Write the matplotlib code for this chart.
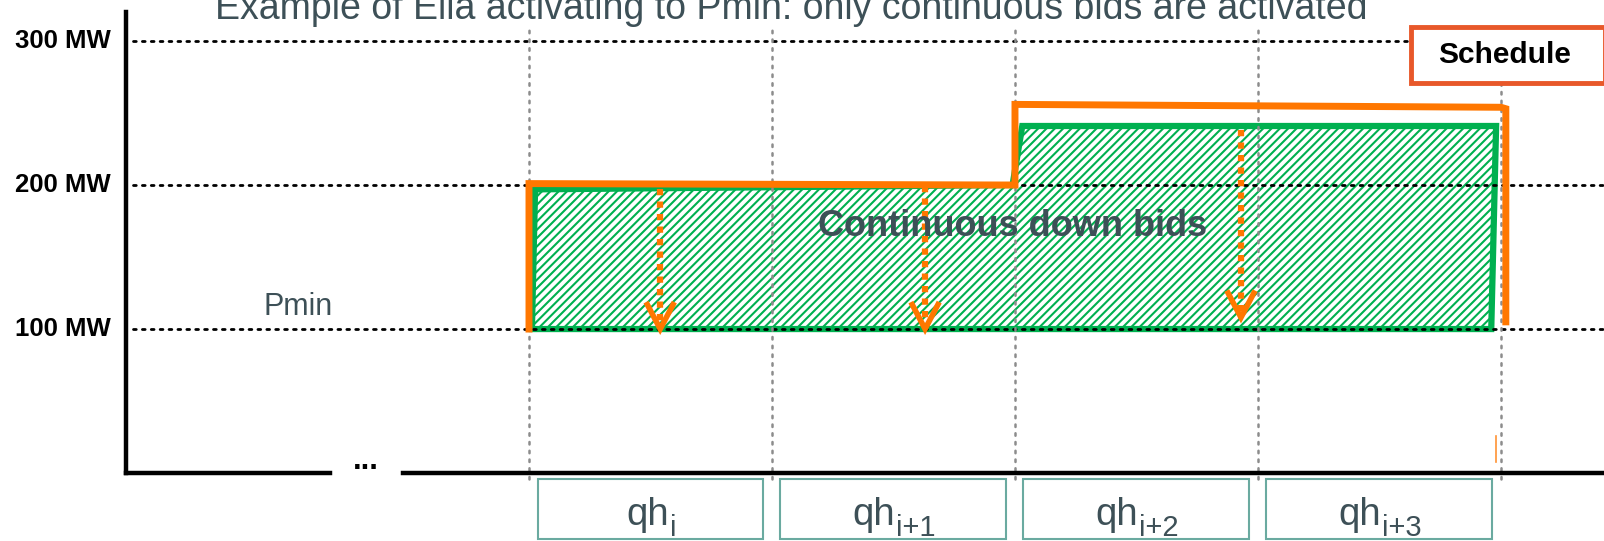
import matplotlib
matplotlib.use("Agg")
from matplotlib import pyplot as plt
from matplotlib.patches import Polygon, Rectangle

plt.rcParams['font.family'] = ['Liberation Sans', 'DejaVu Sans']
plt.rcParams['hatch.linewidth'] = 1.5

# quarter hours on x (0 = start of qh_i), MW on y
mw_ticks = [100, 200, 300]
mw_labels = ["100 MW", "200 MW", "300 MW"]
qh_bounds = [0, 1, 2, 3, 4]
qh_subs = ["i", "i+1", "i+2", "i+3"]

# schedule (orange)
sched_t = [0.0, 0.0, 2.0, 2.0, 4.0, 4.02, 4.02]
sched_mw = [100, 201, 200, 256, 254, 253, 105]

# continuous down bids (green hatched)
bids_t = [0.012, 0.025, 1.99, 2.03, 3.98, 3.96]
bids_mw = [100, 197, 200, 241, 241, 100]

# activation arrows
arrow_t = [0.54, 1.63, 2.93]
arrow_top = [197, 199, 238]
arrow_bottom = [100, 100, 108]

orange = "#ff7700"
green = "#00b050"
slate = "#3d5057"

fig = plt.figure(figsize=(16.04, 5.41), dpi=100)
ax = fig.add_axes([0, 0, 1, 1])
ax.set_xlim(-2.177, 4.424)
ax.set_ylim(-47.2, 328.5)
ax.axis("off")

# grid lines
for mw, lab in zip(mw_ticks, mw_labels):
    ax.plot([-1.63, 4.5], [mw, mw], color="black", lw=2, ls=(0, (1, 2.2)),
            dash_capstyle="round")
    ax.text(-1.72, mw, lab, ha="right", va="center", fontsize=18.5,
            fontweight="bold", color="black")
for t in qh_bounds:
    ax.plot([t, t], [-4, 308], color="#8c8c8c", lw=1.8, ls=(0, (1, 2.5)),
            dash_capstyle="round")

# axes
ax.plot([-1.66, -1.66], [0, 320], color="black", lw=3.2)
ax.plot([-1.66, -0.82], [0, 0], color="black", lw=3.2)
ax.plot([-0.52, 4.5], [0, 0], color="black", lw=3.2)
ax.text(-0.67, -2, "...", ha="center", va="bottom", fontsize=22,
        fontweight="bold")

# bids
poly = Polygon(list(zip(bids_t, bids_mw)), closed=True, facecolor="white",
               edgecolor=green, hatch="////", lw=0)
ax.add_patch(poly)
ax.add_patch(Polygon(list(zip(bids_t, bids_mw)), closed=True, fill=False,
                     edgecolor=green, lw=4.5))

# schedule
ax.plot(sched_t, sched_mw, color=orange, lw=5, solid_joinstyle="miter")
ax.plot([3.98, 3.98], [8, 26], color=orange, lw=1.2, alpha=0.8)

# arrows
for t, top, bot in zip(arrow_t, arrow_top, arrow_bottom):
    ax.plot([t, t], [top, bot + 3], color=orange, lw=4.5, ls=(0, (1, 1)))
    ax.plot([t - 0.053, t, t + 0.053], [bot + 17, bot, bot + 17], color=orange,
            lw=4, solid_joinstyle="miter")

ax.text(1.99, 171, "Continuous down bids", ha="center", va="center",
        fontsize=26, fontweight="bold", color=slate)
ax.text(-0.95, 115, "Pmin", ha="center", va="center", fontsize=22, color=slate)

# quarter hour boxes
fig.canvas.draw()
renderer = fig.canvas.get_renderer()
inv = ax.transData.inverted()
for i, sub in enumerate(qh_subs):
    x0 = qh_bounds[i] + 0.035
    x1 = qh_bounds[i + 1] - 0.035
    ax.add_patch(Rectangle((x0, -46), x1 - x0, 42, fill=False,
                           edgecolor="#6aaaa0", lw=1.5))
    main = ax.text(0, -36, "qh", ha="left", va="baseline", fontsize=27.5,
                   color=slate)
    low = ax.text(0, -43.5, sub, ha="left", va="baseline", fontsize=21,
                  color=slate)
    bm = main.get_window_extent(renderer)
    bl = low.get_window_extent(renderer)
    w_main = inv.transform((bm.width, 0))[0] - inv.transform((0, 0))[0]
    w_low = inv.transform((bl.width, 0))[0] - inv.transform((0, 0))[0]
    start = (x0 + x1) / 2 - (w_main + w_low) / 2
    main.set_x(start)
    low.set_x(start + w_main + 0.004)

# schedule legend box
ax.add_patch(Rectangle((3.63, 271), 0.8, 39, facecolor="white",
                       edgecolor="#e8582a", lw=3.5, zorder=5))
ax.text(4.015, 290.5, "Schedule", ha="center", va="center", fontsize=21.5,
        fontweight="bold", color="black", zorder=6)

ax.text(1.08, 315, "Example of Elia activating to Pmin: only continuous bids are activated",
        ha="center", va="baseline", fontsize=27, color=slate)

fig.savefig("out.png", dpi=100)
